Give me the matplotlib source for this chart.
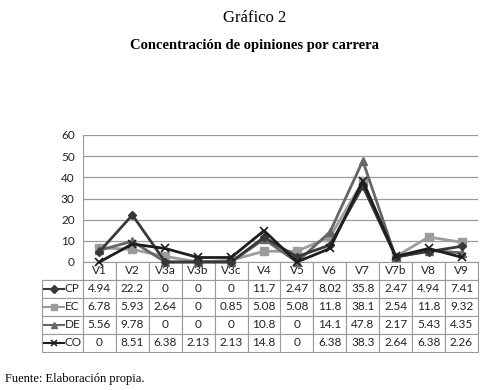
import matplotlib
matplotlib.use("Agg")
import matplotlib.pyplot as plt

cats = ["V1", "V2", "V3a", "V3b", "V3c", "V4", "V5", "V6", "V7", "V7b", "V8", "V9"]
cp = [4.94, 22.2, 0, 0, 0, 11.7, 2.47, 8.02, 35.8, 2.47, 4.94, 7.41]
ec = [6.78, 5.93, 2.64, 0, 0.85, 5.08, 5.08, 11.8, 38.1, 2.54, 11.8, 9.32]
de = [5.56, 9.78, 0, 0, 0, 10.8, 0, 14.1, 47.8, 2.17, 5.43, 4.35]
co = [0, 8.51, 6.38, 2.13, 2.13, 14.8, 0, 6.38, 38.3, 2.64, 6.38, 2.26]
names = ["CP", "EC", "DE", "CO"]
series = [cp, ec, de, co]

styles = {
    "CP": dict(color="#383838", marker="D", ms=4.5, zorder=4),
    "EC": dict(color="#9c9c9c", marker="s", ms=6, zorder=2),
    "DE": dict(color="#666666", marker="^", ms=6, zorder=3),
    "CO": dict(color="#1e1e1e", marker="x", ms=6, mew=1.2, zorder=5),
}

plt.rcParams['font.family'] = ['Lato', 'DejaVu Sans']

fig = plt.figure(figsize=(4.8, 3.9), dpi=100)
ax = fig.add_axes([83/480, 1-262/390, 395/480, 127/390])

x = list(range(len(cats)))
for n, s in zip(names, series):
    st = styles[n]
    ax.plot(x, s, lw=2, color=st["color"], marker=st["marker"], ms=st["ms"],
            mew=st.get("mew", 1), zorder=st["zorder"], clip_on=False)

ax.set_xlim(-0.5, len(cats) - 0.5)
ax.set_ylim(0, 60)
ax.set_yticks(range(0, 61, 10))
ax.set_xticks([])
ax.tick_params(axis="y", length=0, labelsize=8.5, pad=6, colors="#222222")
ax.grid(axis="y", color="#9a9a9a", lw=0.9)
ax.set_axisbelow(True)
for sp in ["top", "right", "bottom"]:
    ax.spines[sp].set_visible(False)
ax.spines["left"].set_color("#9a9a9a")

# tabla de datos debajo del grafico
lab_w = 41 / 395
cell_text = [[""] + cats] + [[""] + [f"{v:g}" for v in s] for s in series]
widths = [lab_w] + [1 / len(cats)] * len(cats)
tb = ax.table(cellText=cell_text, colWidths=widths, cellLoc="center",
              bbox=[-lab_w, -90/127, 1 + lab_w, 90/127])
tb.auto_set_font_size(False)
tb.set_fontsize(8.5)
for (r, c), cell in tb.get_celld().items():
    cell.set_edgecolor("#9a9a9a")
    cell.set_linewidth(0.8)
    cell.get_text().set_color("#222222")
tb[0, 0].visible_edges = "BR"

row_h = 18 / 127
for i, n in enumerate(names):
    st = styles[n]
    yc = -(i + 1.5) * row_h
    ax.plot([-0.099, -0.049], [yc, yc], transform=ax.transAxes, clip_on=False,
            color=st["color"], lw=1.5)
    ax.plot([-0.074], [yc], transform=ax.transAxes, clip_on=False, color=st["color"],
            marker=st["marker"], ms=st["ms"] * 0.8, mew=st.get("mew", 1))
    ax.text(-0.046, yc, n, transform=ax.transAxes, ha="left", va="center",
            fontsize=8.5, color="#222222")

fig.text(255/480, 1 - 18/390, "Gráfico 2", ha="center", va="center",
         family="Liberation Serif", fontsize=12)
fig.text(255/480, 1 - 46/390, "Concentración de opiniones por carrera", ha="center",
         va="center", family="Liberation Serif", fontsize=10.5, fontweight="bold")
fig.text(5/480, 1 - 379/390, "Fuente: Elaboración propia.", ha="left", va="center",
         family="Liberation Serif", fontsize=9)

fig.savefig("out.png", dpi=100)
